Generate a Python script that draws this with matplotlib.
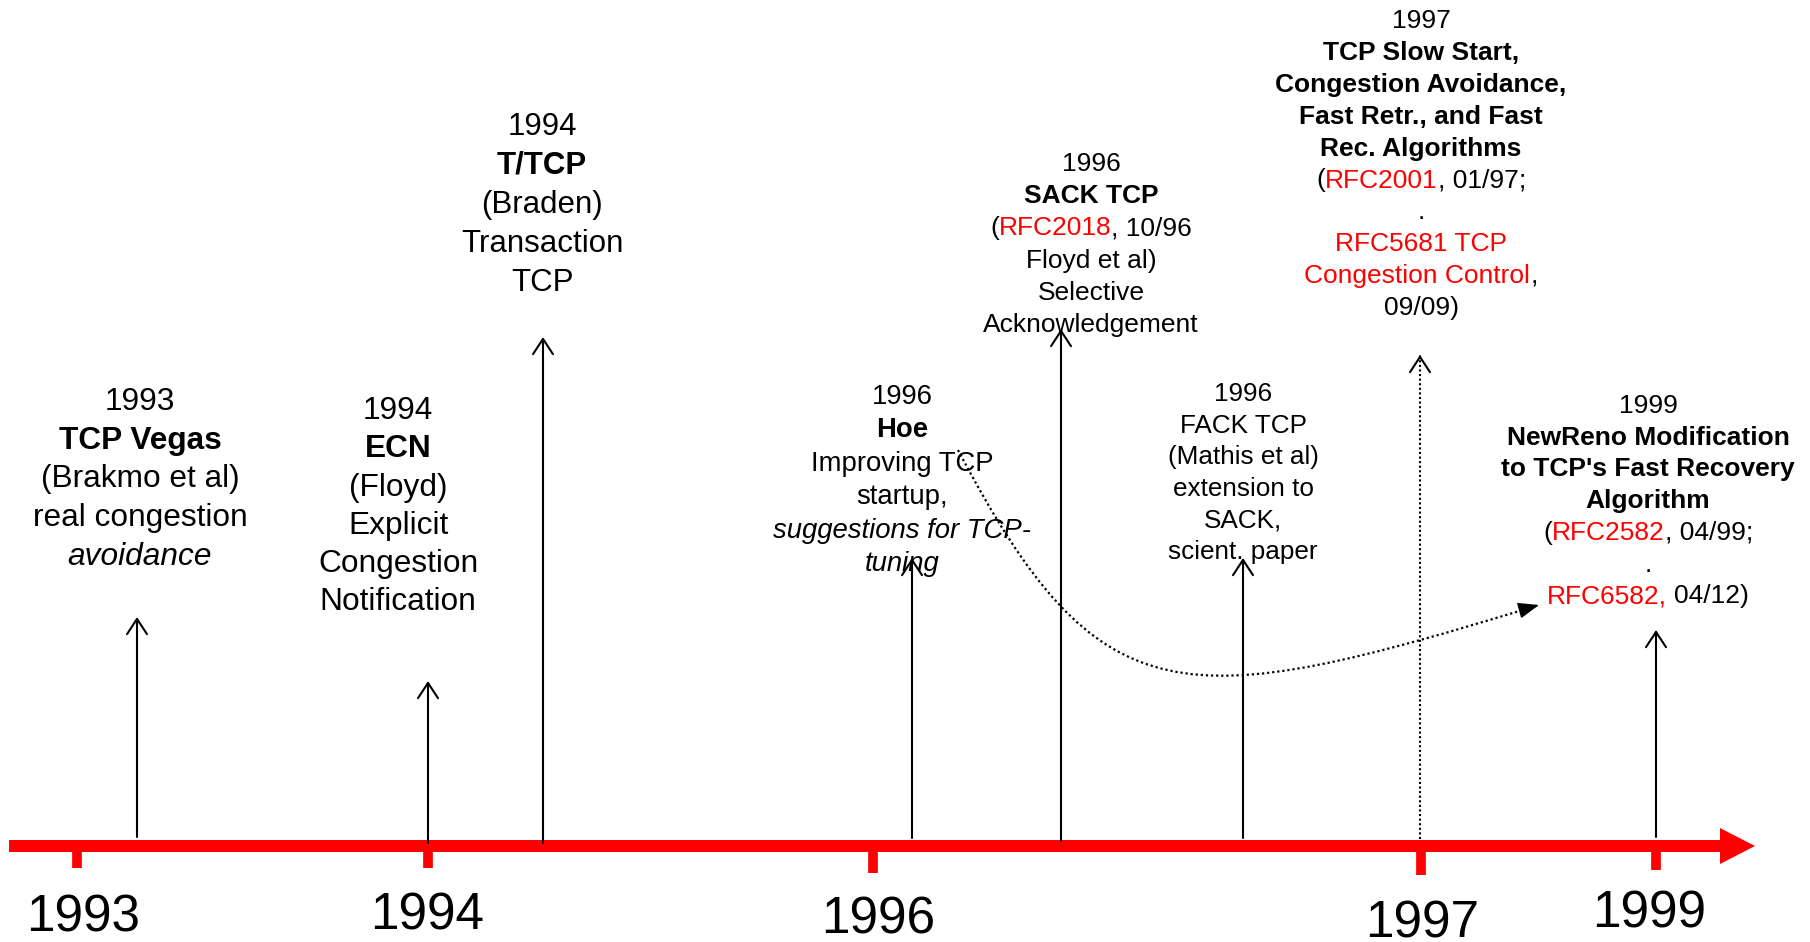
"""
TCP congestion control timeline (1993-1999).
Drawn on an axes that maps 1:1 to output pixels (y grows downward).
"""
import re

import matplotlib
matplotlib.use("Agg")
import matplotlib.pyplot as plt
from matplotlib.path import Path
from matplotlib.patches import PathPatch

plt.rcParams["font.family"] = ["Liberation Sans", "DejaVu Sans"]

W, H = 1810, 942
RED = "#FF0000"

# timeline bar: labelled years and where their ticks sit along the bar
AXIS_YEARS = ["1993", "1994", "1996", "1997", "1999"]
AXIS_TICK_X = [77, 428, 873, 1421, 1656]
AXIS_TICK_END = [868, 868, 873, 875, 870]
AXIS_LABEL_X = [83, 427, 878, 1422, 1649]
AXIS_LABEL_Y = [931, 930, 934, 937, 928]

# event arrows rising from the bar
EVENT_X = [137, 428, 543, 912, 1061, 1243, 1420, 1656]
EVENT_TOP = [617, 681, 337, 558, 329, 558, 355, 630]
EVENT_BOTTOM = [837, 843, 843, 838, 841, 838, 839, 837]
EVENT_DOTTED = [False, False, False, False, False, False, True, False]

# "**" = bold line, "_" = italic line, {..} = red part
VEGAS = ["1993", "**TCP Vegas", "(Brakmo et al)", "real congestion", "_avoidance"]
ECN = ["1994", "**ECN", "(Floyd)", "Explicit", "Congestion", "Notification"]
TTCP = ["1994", "**T/TCP", "(Braden)", "Transaction", "TCP"]
SACK = ["1996", "**SACK TCP", "({RFC2018}, 10/96", "Floyd et al)", "Selective",
        "Acknowledgement"]
HOE = ["1996", "**Hoe", "Improving TCP", "startup,", "_suggestions for TCP-", "_tuning"]
FACK = ["1996", "FACK TCP", "(Mathis et al)", "extension to", "SACK,", "scient. paper"]
RFC2001 = ["1997", "**TCP Slow Start,", "**Congestion Avoidance,", "**Fast Retr., and Fast",
           "**Rec. Algorithms", "({RFC2001}, 01/97;", ".", "{RFC5681 TCP}",
           "{Congestion Control},", "09/09)"]
NEWRENO = ["1999", "**NewReno Modification", "**to TCP's Fast Recovery", "**Algorithm",
           "({RFC2582}, 04/99;", ".", "{RFC6582,} 04/12)"]

# block -> (centre x, first baseline, line step, font size)
BLOCKS = [
    (VEGAS, 140, 410, 38.7, 22.8),
    (ECN, 398, 419, 38.3, 22.8),
    (TTCP, 542, 135, 39.0, 22.5),
    (SACK, 1091, 171, 32.2, 19.0),
    (HOE, 902, 404, 33.4, 19.8),
    (FACK, 1243, 401, 31.6, 18.8),
    (RFC2001, 1421, 28, 31.9, 19.0),
    (NEWRENO, 1648, 413, 31.7, 19.0),
]

# dotted curve from the Hoe note to the NewReno note (cubic bezier)
CURVE = [(958, 450), (1100, 720), (1180, 715), (1539, 605)]


def draw_line(ax, renderer, cx, y, line, size):
    weight, style = "normal", "normal"
    if line.startswith("**"):
        weight, line = "bold", line[2:]
    elif line.startswith("_"):
        style, line = "italic", line[1:]
    kw = dict(fontsize=size, fontweight=weight, fontstyle=style, va="baseline")
    segs = [(p, RED if i % 2 else "black") for i, p in enumerate(re.split(r"[{}]", line)) if p]
    if len(segs) == 1:
        ax.text(cx, y, segs[0][0], color=segs[0][1], ha="center", **kw)
        return

    def adv(s):
        t = ax.text(0, 0, s + "|", **kw)
        w = t.get_window_extent(renderer).width
        t.remove()
        return w - bar_w

    t = ax.text(0, 0, "|", **kw)
    bar_w = t.get_window_extent(renderer).width
    t.remove()
    full = "".join(s for s, _ in segs)
    x0 = cx - adv(full) / 2
    prefix = ""
    for s, c in segs:
        lead = len(s) - len(s.lstrip())
        prefix += s[:lead]
        ax.text(x0 + adv(prefix), y, s.lstrip(), color=c, ha="left", **kw)
        prefix += s[lead:]


def main():
    fig = plt.figure(figsize=(W / 100, H / 100), dpi=100)
    ax = fig.add_axes([0, 0, 1, 1])
    ax.set_xlim(0, W)
    ax.set_ylim(H, 0)
    ax.axis("off")
    renderer = fig.canvas.get_renderer()

    # red timeline bar with ticks and year labels
    ax.arrow(9, 846, 1746, 0, width=12, head_width=36, head_length=35,
             length_includes_head=True, fc=RED, ec="none", zorder=3)
    for x, y1 in zip(AXIS_TICK_X, AXIS_TICK_END):
        ax.plot([x, x], [846, y1], color=RED, lw=7.0, solid_capstyle="butt", zorder=3)
    for lab, x, y in zip(AXIS_YEARS, AXIS_LABEL_X, AXIS_LABEL_Y):
        ax.text(x, y, lab, fontsize=37, ha="center", va="baseline")

    # event arrows
    head = "->,head_length=0.55,head_width=0.36"
    for x, top, bot, dotted in zip(EVENT_X, EVENT_TOP, EVENT_BOTTOM, EVENT_DOTTED):
        if dotted:
            ax.plot([x, x], [bot, top + 2], color="black", lw=1.5, ls=(0, (1, 1.2)), zorder=4)
            ax.annotate("", xy=(x, top), xytext=(x, top + 2),
                        arrowprops=dict(arrowstyle=head, color="black", lw=1.5,
                                        shrinkA=0, shrinkB=0, mutation_scale=20), zorder=4)
        else:
            ax.annotate("", xy=(x, top), xytext=(x, bot),
                        arrowprops=dict(arrowstyle=head, color="black", lw=1.5,
                                        shrinkA=0, shrinkB=0, mutation_scale=20), zorder=4)

    # text blocks
    for lines, cx, y0, step, size in BLOCKS:
        for i, line in enumerate(lines):
            draw_line(ax, renderer, cx, y0 + i * step, line, size)

    # dotted curved arrow Hoe -> NewReno
    path = Path(CURVE, [Path.MOVETO, Path.CURVE4, Path.CURVE4, Path.CURVE4])
    ax.add_patch(PathPatch(path, fill=False, ec="black", lw=1.6, ls=(0, (1, 1.3)), zorder=4))
    ax.annotate("", xy=CURVE[-1], xytext=(1521, 610),
                arrowprops=dict(arrowstyle="-|>,head_length=0.65,head_width=0.25",
                                color="black", lw=1.0, shrinkA=0, shrinkB=0,
                                mutation_scale=20), zorder=4)

    fig.savefig("out.png", dpi=100)
    plt.close(fig)


if __name__ == "__main__":
    main()
